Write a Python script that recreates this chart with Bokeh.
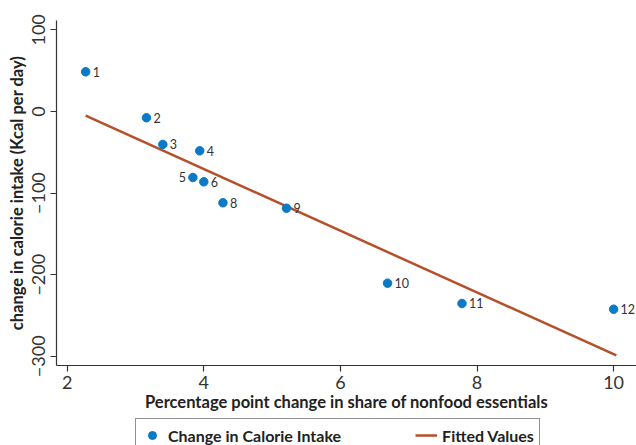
from bokeh.plotting import figure
from bokeh.layouts import column
from bokeh.models import (ColumnDataSource, LabelSet, Legend, LegendItem,
                          FixedTicker, Range1d)
from bokeh.core.properties import value
from bokeh.embed import file_html
from bokeh.resources import INLINE

# ---- data ----
labels = ["1", "2", "3", "4", "5", "6", "8", "9", "10", "11", "12"]
share_change = [2.27, 3.16, 3.40, 3.94, 3.84, 4.00, 4.28, 5.21, 6.69, 7.78, 10.00]
calorie_change = [48.6, -7.7, -40.4, -48.2, -80.9, -86.2, -111.9, -118.5, -210.4, -235.3, -242.3]
fit_x = [2.27, 10.04]
fit_y = [-5.0, -299.0]
x_ticks = [2, 4, 6, 8, 10]
y_ticks = [-300, -200, -100, 0, 100]
legend_labels = ["Change in Calorie Intake", "Fitted Values"]

FONT = "Lato"
BLUE = "#0a7ac6"
RED = "#b5502b"
AXIS = "#333333"

p = figure(width=636, height=416, output_backend="svg", toolbar_location=None,
           x_range=Range1d(1.843, 10.335), y_range=Range1d(-311.3, 111.5),
           min_border_left=56, min_border_right=0, min_border_top=20,
           min_border_bottom=51)
p.outline_line_color = None
p.grid.visible = False
p.background_fill_color = "white"
p.border_fill_color = "white"

# scatter points
align = ["left"] * len(labels)
xoff = [7] * len(labels)
align[4] = "right"
xoff[4] = -7
src = ColumnDataSource(dict(x=share_change, y=calorie_change, lab=labels,
                            align=align, xoff=xoff))
fit_src = ColumnDataSource(dict(x=fit_x, y=fit_y))

p.line("x", "y", source=fit_src, line_color=RED, line_width=2.5)
p.scatter("x", "y", source=src, size=8.5, fill_color=BLUE, line_color=BLUE)

lbl = LabelSet(x="x", y="y", text="lab", source=src, x_offset="xoff",
               y_offset=0, text_align="align", text_baseline="middle",
               text_font=value(FONT), text_font_size="12.5px",
               text_color="#333333")
p.add_layout(lbl)

# axes
for ax in (p.xaxis[0], p.yaxis[0]):
    ax.axis_line_color = AXIS
    ax.axis_line_width = 1.2
    ax.major_tick_line_color = AXIS
    ax.major_tick_line_width = 1.2
    ax.major_tick_out = 6
    ax.major_tick_in = 0
    ax.minor_tick_line_color = None
    ax.major_label_text_font = FONT
    ax.major_label_text_font_size = "18px"
    ax.major_label_text_color = "#333333"
    ax.axis_label_text_font = FONT
    ax.axis_label_text_font_style = "bold"
    ax.axis_label_text_color = "#222222"

p.xaxis[0].ticker = FixedTicker(ticks=x_ticks)
p.yaxis[0].ticker = FixedTicker(ticks=y_ticks)
p.xaxis[0].axis_label = "Percentage point change in share of nonfood essentials"
p.yaxis[0].axis_label = "change in calorie intake (Kcal per day)"
p.xaxis[0].axis_label_text_font_size = "16.5px"
p.yaxis[0].axis_label_text_font_size = "16.5px"
p.xaxis[0].major_label_standoff = 4
p.xaxis[0].axis_label_standoff = 0
p.yaxis[0].major_label_standoff = 5
p.yaxis[0].axis_label_standoff = 3
p.yaxis[0].major_label_orientation = "vertical"

# legend strip (separate canvas so that it is not clipped by the plot frame);
# its proxy renderers lie outside the strip's visible ranges
lg = figure(width=636, height=29, output_backend="svg", toolbar_location=None,
            x_axis_type=None, y_axis_type=None, min_border=0,
            min_border_left=0, min_border_right=0, min_border_top=0,
            min_border_bottom=0,
            x_range=Range1d(100, 101), y_range=Range1d(100, 101))
lg.outline_line_color = None
lg.grid.visible = False
r1 = lg.scatter(x=share_change[:1], y=calorie_change[:1], size=8.5,
                fill_color=BLUE, line_color=BLUE)
r2 = lg.line(x=fit_x, y=fit_y, line_color=RED, line_width=2.5)
legend = Legend(items=[LegendItem(label=legend_labels[0], renderers=[r1]),
                       LegendItem(label=legend_labels[1], renderers=[r2])],
                orientation="horizontal", location=(79, -7),
                label_text_font=FONT, label_text_font_style="bold",
                label_text_font_size="16px", label_text_color="#222222",
                glyph_width=22, glyph_height=20, label_height=22,
                label_standoff=5, spacing=74, padding=5, margin=0,
                border_line_color="#222222", border_line_width=1.2)
lg.add_layout(legend, "center")

layout = column(p, lg, spacing=0)
open("out.html", "w").write(file_html(layout, INLINE))
